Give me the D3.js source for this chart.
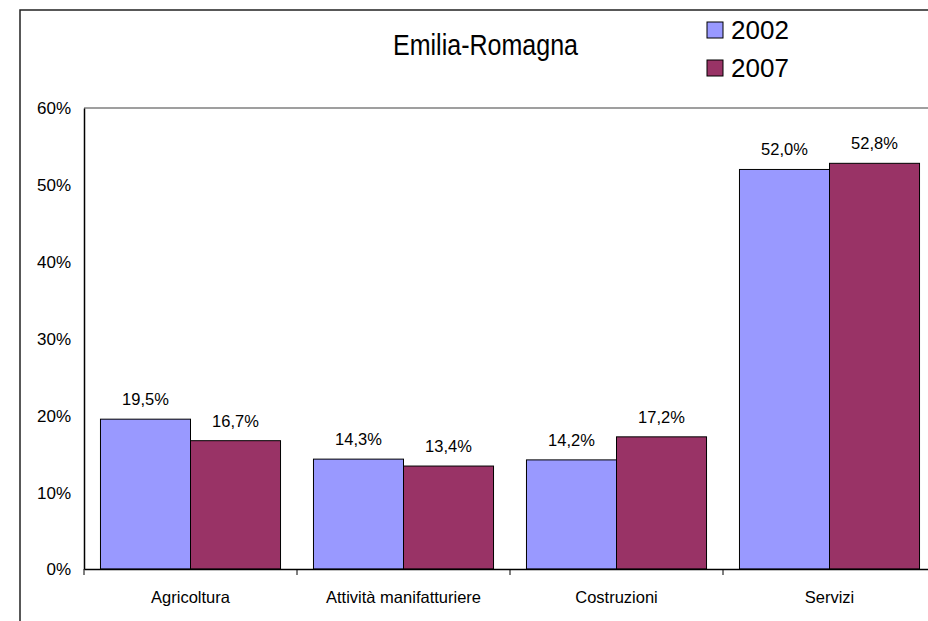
<!DOCTYPE html>
<html>
<head>
<meta charset="utf-8">
<script src="https://cdn.jsdelivr.net/npm/d3@7"></script>
<style>
  body { margin: 0; background: #fff; }
  text { font-family: "Liberation Sans", Arial, sans-serif; fill: #000; }
</style>
</head>
<body>
<script>
// dati
var categorie = ["Agricoltura", "Attività manifatturiere", "Costruzioni", "Servizi"];
var anni = ["2002", "2007"];
var valori2002 = [19.5, 14.3, 14.2, 52.0];
var valori2007 = [16.7, 13.4, 17.2, 52.8];
var colori = ["#9999FF", "#993366"];
var yTicks = [0, 10, 20, 30, 40, 50, 60];

var w = 928;
var h = 621;

var svg = d3.select("body").append("svg").attr("width", w).attr("height", h);

svg.append("rect").attr("width", w).attr("height", h).attr("fill", "white");

// bordo esterno (tagliato a destra e in basso)
svg.append("path")
  .attr("d", "M20,640 L20,10 L960,10")
  .attr("fill", "none")
  .attr("stroke", "#222")
  .attr("stroke-width", 1.5);

var plot = { left: 84, top: 108, right: 936, bottom: 569 };

var x0 = d3.scaleBand().domain(categorie).range([plot.left, plot.right]);
var x1 = d3.scaleBand().domain(anni).range([0, x0.bandwidth()]).paddingOuter(0.183);
var y = d3.scaleLinear().domain([0, 60]).range([plot.bottom, plot.top]);

var it = d3.formatLocale({ decimal: ",", thousands: ".", grouping: [3], currency: ["", "€"] });
var fmt = it.format(".1f");

// bordo area del grafico
svg.append("path")
  .attr("d", "M" + plot.left + "," + plot.top + " L" + plot.right + "," + plot.top + " L" + plot.right + "," + plot.bottom)
  .attr("fill", "none")
  .attr("stroke", "#808080")
  .attr("stroke-width", 1.5);

// barre
var serie = [valori2002, valori2007];
serie.forEach(function (vals, s) {
  var g = svg.append("g");
  g.selectAll("rect")
    .data(vals)
    .enter()
    .append("rect")
    .attr("x", function (d, i) { return x0(categorie[i]) + x1(anni[s]); })
    .attr("y", function (d) { return y(d); })
    .attr("width", x1.bandwidth())
    .attr("height", function (d) { return y(0) - y(d); })
    .attr("fill", colori[s])
    .attr("stroke", "#000")
    .attr("stroke-width", 1);

  g.selectAll("text")
    .data(vals)
    .enter()
    .append("text")
    .attr("x", function (d, i) { return x0(categorie[i]) + x1(anni[s]) + x1.bandwidth() / 2; })
    .attr("y", function (d) { return y(d) - 14; })
    .attr("text-anchor", "middle")
    .style("font-size", "16.5px")
    .text(function (d) { return fmt(d) + "%"; });
});

// asse y
var yAxis = svg.append("g")
  .attr("transform", "translate(" + plot.left + ",0)")
  .call(d3.axisLeft(y).tickValues(yTicks).tickSize(0).tickPadding(13).tickFormat(function (d) { return d + "%"; }));
yAxis.select(".domain").attr("stroke", "#000").attr("stroke-width", 1.5);
yAxis.selectAll("text").style("font-size", "17px").attr("dy", "0.35em");

// asse x
var xAxis = svg.append("g")
  .attr("transform", "translate(0," + plot.bottom + ")")
  .call(d3.axisBottom(x0).tickSize(0).tickPadding(22));
xAxis.select(".domain").attr("stroke", "#000").attr("stroke-width", 1.5);
xAxis.selectAll("text").style("font-size", "16.5px");

// tacche tra le categorie
svg.selectAll(".tacca")
  .data(categorie)
  .enter()
  .append("line")
  .attr("class", "tacca")
  .attr("x1", function (d) { return x0(d); })
  .attr("x2", function (d) { return x0(d); })
  .attr("y1", plot.bottom)
  .attr("y2", plot.bottom + 6)
  .attr("stroke", "#000")
  .attr("stroke-width", 1);

// titolo
svg.append("text")
  .attr("x", 393)
  .attr("y", 55)
  .attr("textLength", 185)
  .attr("lengthAdjust", "spacingAndGlyphs")
  .style("font-size", "30px")
  .text("Emilia-Romagna");

// legenda
var leg = svg.selectAll(".leg")
  .data(anni)
  .enter()
  .append("g")
  .attr("class", "leg")
  .attr("transform", function (d, i) { return "translate(707," + (22 + i * 38) + ")"; });

leg.append("rect")
  .attr("width", 16)
  .attr("height", 16)
  .attr("fill", function (d, i) { return colori[i]; })
  .attr("stroke", "#000")
  .attr("stroke-width", 1);

leg.append("text")
  .attr("x", 24)
  .attr("y", 17)
  .style("font-size", "26px")
  .text(function (d) { return d; });
</script>
</body>
</html>
